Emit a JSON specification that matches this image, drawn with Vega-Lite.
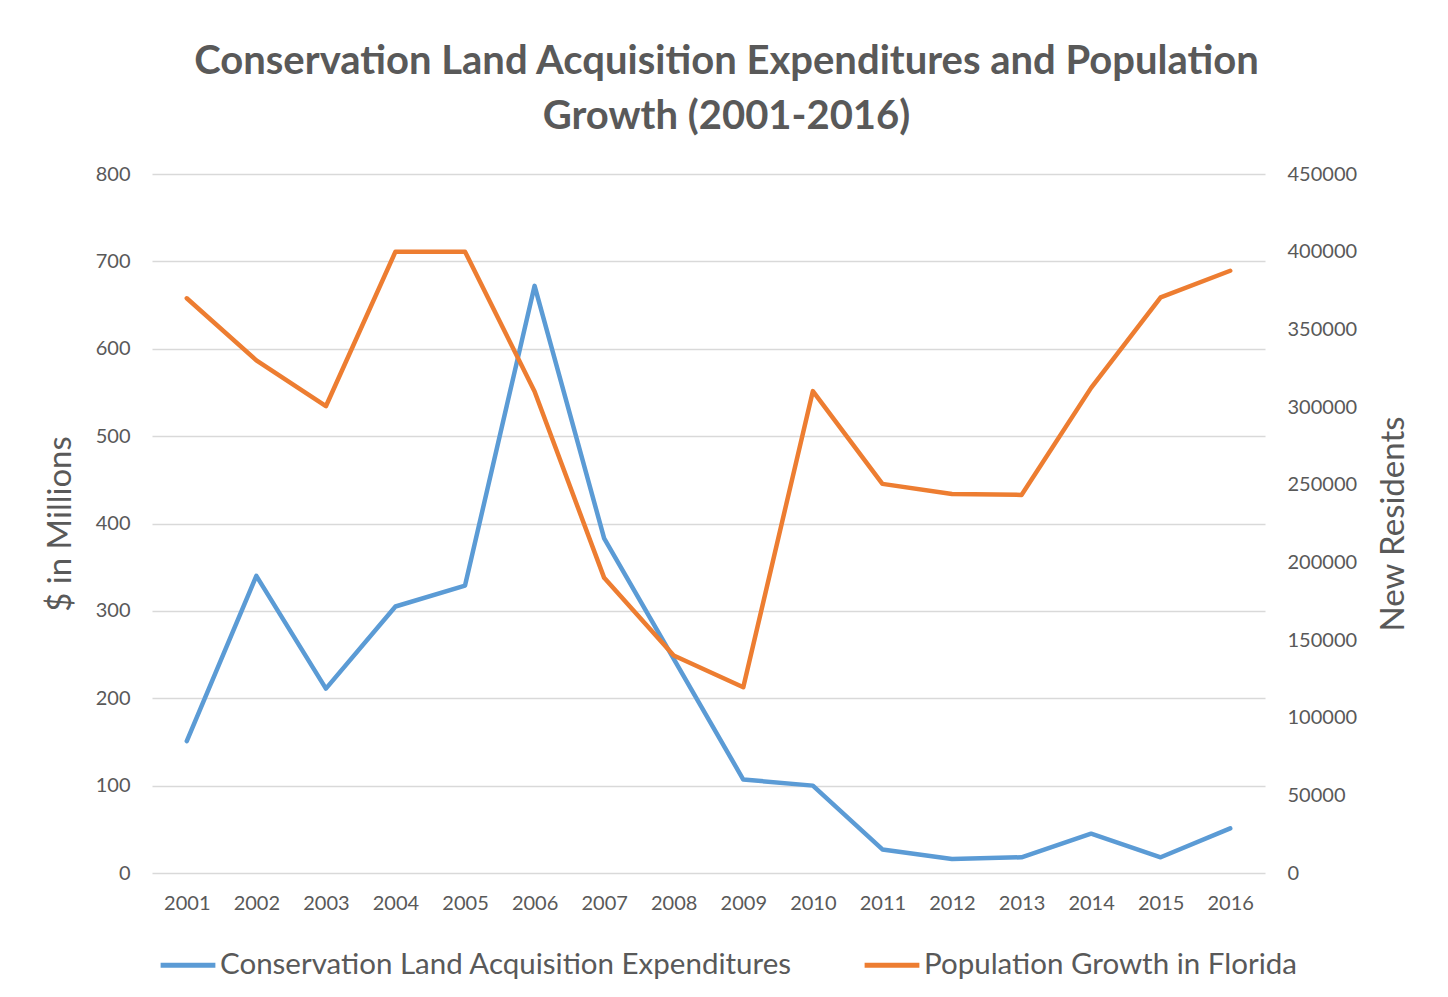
{
  "$schema": "https://vega.github.io/schema/vega-lite/v6.json",
  "width": 1113,
  "height": 699,
  "autosize": {"type": "none"},
  "padding": {"left": 152, "top": 174, "right": 183, "bottom": 124},
  "background": "white",
  "title": {
    "text": ["Conservation Land Acquisition Expenditures and Population", "Growth (2001-2016)"],
    "font": "Lato",
    "fontSize": 40,
    "fontWeight": "bold",
    "color": "#595959",
    "anchor": "middle",
    "dx": 18,
    "lineHeight": 55,
    "offset": 27
  },
  "data": {
    "values": [
      {"year": "2001", "expend": 151, "pop": 370000},
      {"year": "2002", "expend": 340, "pop": 330000},
      {"year": "2003", "expend": 211, "pop": 300500},
      {"year": "2004", "expend": 305, "pop": 400000},
      {"year": "2005", "expend": 329, "pop": 400000},
      {"year": "2006", "expend": 672, "pop": 310000},
      {"year": "2007", "expend": 383, "pop": 190000},
      {"year": "2008", "expend": 245, "pop": 140000},
      {"year": "2009", "expend": 107, "pop": 119600},
      {"year": "2010", "expend": 100, "pop": 310200},
      {"year": "2011", "expend": 27, "pop": 250500},
      {"year": "2012", "expend": 16, "pop": 244000},
      {"year": "2013", "expend": 18, "pop": 243400},
      {"year": "2014", "expend": 45, "pop": 312300},
      {"year": "2015", "expend": 18, "pop": 370600},
      {"year": "2016", "expend": 51, "pop": 387700}
    ]
  },
  "encoding": {
    "x": {
      "field": "year",
      "type": "ordinal",
      "scale": {"type": "point", "padding": 0.5},
      "axis": {
        "title": null,
        "labelAngle": 0,
        "labelFont": "Lato",
        "labelFontSize": 20,
        "labelColor": "#595959",
        "labelPadding": 20,
        "ticks": false,
        "domain": false,
        "grid": false
      }
    }
  },
  "layer": [
    {
      "mark": {"type": "line", "strokeWidth": 4.5, "strokeCap": "round", "strokeJoin": "round"},
      "encoding": {
        "y": {
          "field": "expend",
          "type": "quantitative",
          "scale": {"domain": [0, 800], "nice": false},
          "axis": {
            "title": "$ in Millions",
            "titleFont": "Lato",
            "titleFontSize": 33,
            "titleFontWeight": "normal",
            "titleColor": "#595959",
            "titlePadding": 18,
            "labelFont": "Lato",
            "labelFontSize": 20,
            "labelColor": "#595959",
            "labelPadding": 22,
            "labelOverlap": false,
            "values": [0, 100, 200, 300, 400, 500, 600, 700, 800],
            "ticks": false,
            "domain": false,
            "grid": true,
            "gridColor": "#d9d9d9",
            "gridWidth": 1.5
          }
        },
        "color": {"datum": "Conservation Land Acquisition Expenditures"}
      }
    },
    {
      "mark": {"type": "line", "strokeWidth": 4.5, "strokeCap": "round", "strokeJoin": "round"},
      "encoding": {
        "y": {
          "field": "pop",
          "type": "quantitative",
          "scale": {"domain": [0, 450000], "nice": false},
          "axis": {
            "orient": "right",
            "title": "New Residents",
            "titleAngle": 270,
            "titleFont": "Lato",
            "titleFontSize": 33,
            "titleFontWeight": "normal",
            "titleColor": "#595959",
            "titlePadding": 54,
            "labelFont": "Lato",
            "labelFontSize": 20,
            "labelColor": "#595959",
            "labelPadding": 22,
            "labelOverlap": false,
            "values": [0, 50000, 100000, 150000, 200000, 250000, 300000, 350000, 400000, 450000],
            "format": "d",
            "ticks": false,
            "domain": false,
            "grid": false
          }
        },
        "color": {"datum": "Population Growth in Florida"}
      }
    }
  ],
  "resolve": {"scale": {"y": "independent"}},
  "config": {
    "view": {"stroke": null},
    "range": {"category": ["#5B9BD5", "#ED7D31"]},
    "legend": {
      "orient": "none",
      "legendX": 6,
      "legendY": 761,
      "direction": "horizontal",
      "title": null,
      "labelFont": "Lato",
      "labelFontSize": 29.5,
      "labelColor": "#595959",
      "labelLimit": 800,
      "labelOffset": 2,
      "symbolType": "stroke",
      "symbolSize": 3000,
      "symbolStrokeWidth": 5,
      "columnPadding": 62
    }
  }
}
